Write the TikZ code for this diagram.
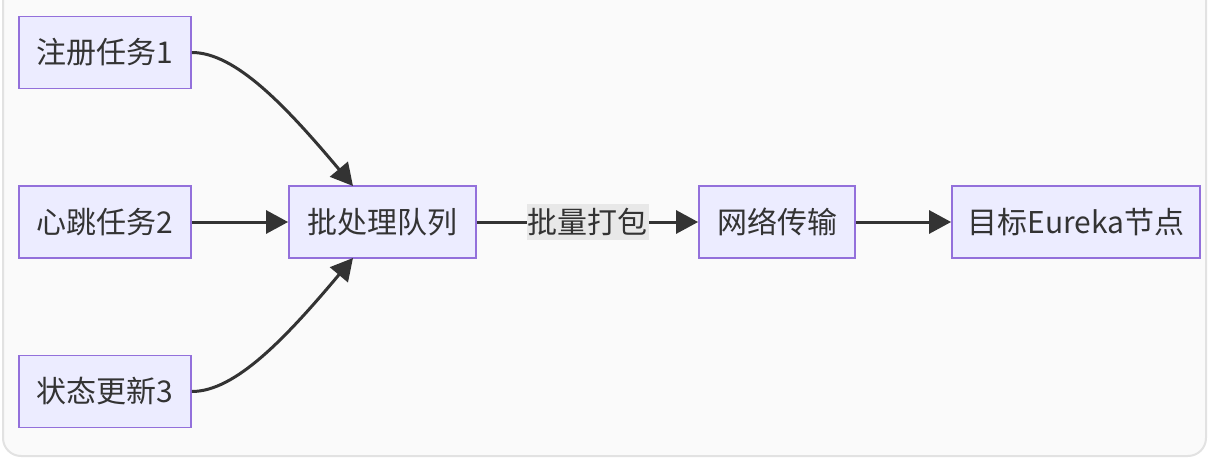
\documentclass[tikz,border=0pt]{standalone}
\usepackage{fontspec}
\setmainfont{Noto Sans CJK SC}
\usetikzlibrary{arrows.meta}
\definecolor{nodefill}{HTML}{ECECFF}
\definecolor{nodeborder}{HTML}{9370DB}
\definecolor{edgecol}{HTML}{333333}
\definecolor{lblbg}{HTML}{E8E8E8}
\definecolor{bgcol}{HTML}{FAFAFA}
\definecolor{framecol}{HTML}{E2E2E2}
\tikzset{
  box/.style={draw=nodeborder, fill=nodefill, line width=1.8pt, minimum height=72pt,
    inner sep=0pt, font=\fontsize{30pt}{34pt}\selectfont, text=edgecol, anchor=center},
  link/.style={draw=edgecol, line width=3pt, -{Triangle[length=22pt,width=23pt]}},
  lbl/.style={fill=lblbg, inner xsep=1pt, inner ysep=4pt, font=\fontsize{30pt}{34pt}\selectfont, text=edgecol}
}
\begin{document}
\begin{tikzpicture}[x=1pt,y=-1pt]
\useasboundingbox (0,0) rectangle (1208,460);
\begin{scope}
\clip (0,0) rectangle (1208,460);
\draw[framecol, fill=bgcol, line width=2pt, rounded corners=18pt] (3,-40) rectangle (1206,456);
\end{scope}
\node[box, minimum width=172pt] (a) at (105,52.5) {注册任务1};
\node[box, minimum width=172pt] (b) at (105,222) {心跳任务2};
\node[box, minimum width=172pt] (c) at (105,391.5) {状态更新3};
\node[box, minimum width=187pt] (q) at (382.5,222) {批处理队列};
\node[box, minimum width=156pt] (n) at (777,222) {网络传输};
\node[box, minimum width=248pt] (t) at (1076,222) {目标Eureka节点};
\coordinate (qtop) at (353,186);
\coordinate (qbot) at (353,258);
\draw[link] (a.east) .. controls (235,52.5) and (285,105) .. (qtop);
\draw[link] (c.east) .. controls (235,391.5) and (285,339) .. (qbot);
\draw[link] (b.east) -- (q.west);
\draw[link] (q.east) -- node[lbl] {批量打包} (n.west);
\draw[link] (n.east) -- (t.west);
\end{tikzpicture}
\end{document}
